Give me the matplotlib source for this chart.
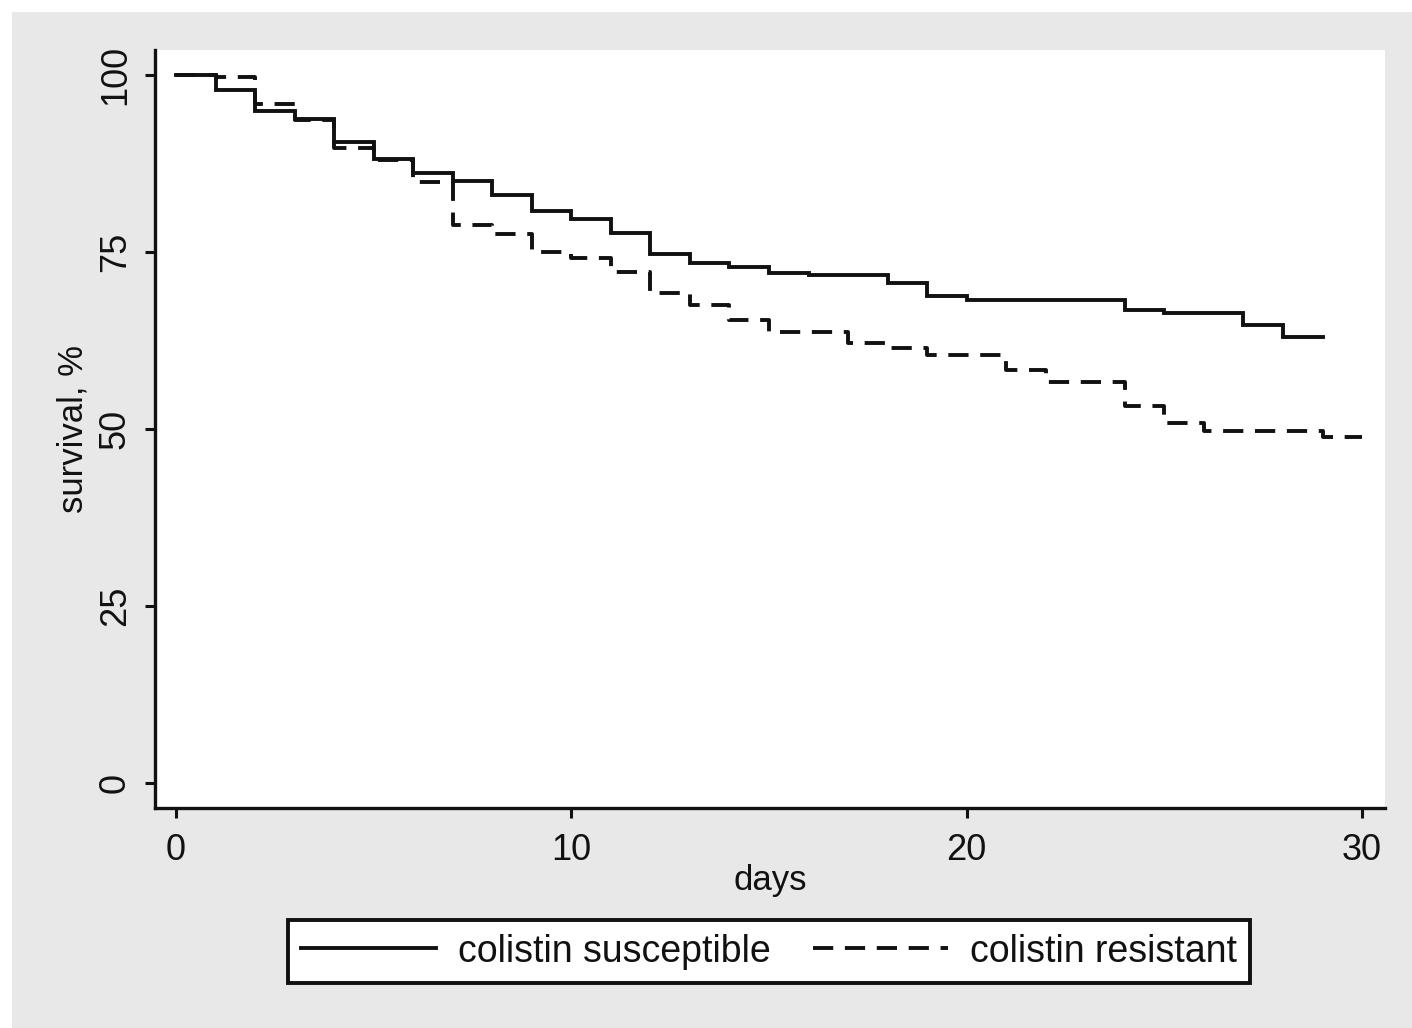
import matplotlib
matplotlib.use("Agg")
import matplotlib.pyplot as plt
from matplotlib.patches import Rectangle

plt.rcParams['font.family'] = ['Liberation Sans', 'DejaVu Sans']

# Data (Kaplan-Meier step values)
days_susceptible = [0, 1, 2, 3, 4, 5, 6, 7, 8, 9, 10, 11, 12, 13, 14, 15, 16, 18, 19, 20, 24, 25, 27, 28, 29]
surv_susceptible = [100, 97.9, 94.9, 93.8, 90.5, 88.1, 86.2, 85.0, 83.1, 80.8, 79.7, 77.7, 74.7, 73.4, 72.9,
                    72.0, 71.8, 70.6, 68.8, 68.2, 66.8, 66.4, 64.7, 63.0, 63.0]

days_resistant = [0, 1, 2, 3, 4, 5, 6, 7, 8, 9, 10, 11, 12, 13, 14, 15, 17, 18, 19, 21, 22, 24, 25, 26, 29, 30]
surv_resistant = [100, 99.7, 95.9, 93.6, 89.7, 88.0, 84.9, 78.8, 77.5, 75.0, 74.2, 72.2, 69.2, 67.5, 65.4,
                  63.7, 62.1, 61.4, 60.5, 58.3, 56.6, 53.2, 50.8, 49.7, 48.9, 48.9]

labels = ["colistin susceptible", "colistin resistant"]
x_ticks = [0, 10, 20, 30]
y_ticks = [0, 25, 50, 75, 100]

W, H = 1412, 1028
fig = plt.figure(figsize=(W / 100, H / 100), dpi=100)
fig.patch.set_facecolor('white')
fig.patches.append(Rectangle((12 / W, 0), 1 - 12 / W, 1 - 12 / H, transform=fig.transFigure,
                             facecolor='#e8e8e8', edgecolor='none', zorder=-10))

ax = fig.add_axes([155 / W, 1 - 808 / H, (1385 - 155) / W, (808 - 50) / H])
ax.set_facecolor('white')

lw = 2.8
ax.plot(days_susceptible, surv_susceptible, drawstyle='steps-post', color='#111111', lw=lw,
        label=labels[0], solid_joinstyle='miter')
ax.plot(days_resistant, surv_resistant, drawstyle='steps-post', color='#111111', lw=lw,
        dashes=(5.2, 3.0), label=labels[1])

ax.set_xlim(-0.531, 30.58)
ax.set_ylim(-3.53, 103.53)

for s in ['top', 'right']:
    ax.spines[s].set_visible(False)
for s in ['left', 'bottom']:
    ax.spines[s].set_linewidth(2.4)
    ax.spines[s].set_color('#111111')

ax.set_xticks(x_ticks)
ax.set_yticks(y_ticks)
ax.tick_params(axis='both', direction='out', length=7, width=2.2, labelsize=26, colors='#111111')
ax.tick_params(axis='x', pad=11)
ax.tick_params(axis='y', pad=9)
for t in ax.get_yticklabels():
    t.set_rotation(90)
    t.set_va('center')

ax.set_xlabel('days', fontsize=25, labelpad=-3, color='#111111')
ax.set_ylabel('survival, %', fontsize=25, labelpad=6, color='#111111')

leg = fig.legend(loc='center', bbox_to_anchor=(769 / W, 1 - 951.5 / H), ncol=2, fontsize=27,
                 frameon=True, fancybox=False, edgecolor='#111111', facecolor='white', framealpha=1,
                 handlelength=3.6, handletextpad=0.6, columnspacing=1.1, borderpad=0.35)
leg.get_frame().set_linewidth(2.8)
for h in leg.get_lines():
    h.set_linewidth(2.8)
for t in leg.get_texts():
    t.set_color('#111111')

fig.savefig('out.png', dpi=100, facecolor=fig.get_facecolor())
